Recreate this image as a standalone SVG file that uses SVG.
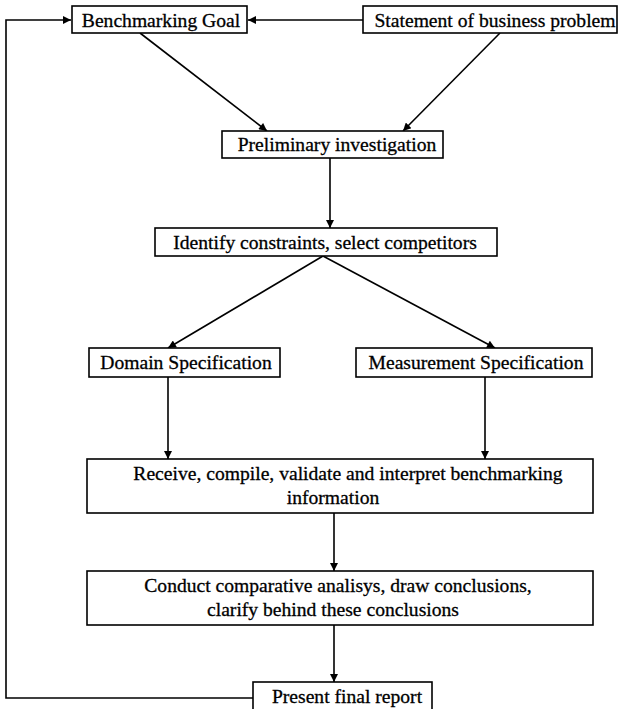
<svg xmlns="http://www.w3.org/2000/svg" width="618" height="709" viewBox="0 0 618 709">
  <style>
    .box { fill: #ffffff; stroke: #000000; stroke-width: 1.6; }
    .lbl { font-family: "Liberation Serif", "Times New Roman", serif; font-size: 19.6px; fill: #000000; stroke: #000000; stroke-width: 0.3; text-anchor: middle; }
    .edge { fill: none; stroke: #000000; stroke-width: 1.6; }
  </style>
  <defs>
    <marker id="arrow" viewBox="0 0 10 10" refX="10" refY="5" markerWidth="9" markerHeight="8" markerUnits="userSpaceOnUse" orient="auto">
      <path d="M0,0 L10,5 L0,10 Z" fill="#000000"/>
    </marker>
  </defs>
  <rect width="618" height="709" fill="#ffffff"/>

  <g id="connectors">
    <line class="edge" x1="363" y1="20" x2="248" y2="20" marker-end="url(#arrow)"/>
    <polyline class="edge" points="253,698 6,698 6,20 71,20" marker-end="url(#arrow)"/>
    <line class="edge" x1="140" y1="33" x2="267" y2="131" marker-end="url(#arrow)"/>
    <line class="edge" x1="500" y1="33" x2="403" y2="131" marker-end="url(#arrow)"/>
    <line class="edge" x1="330" y1="158" x2="330" y2="228" marker-end="url(#arrow)"/>
    <line class="edge" x1="323" y1="256" x2="168" y2="348" marker-end="url(#arrow)"/>
    <line class="edge" x1="323" y1="256" x2="495" y2="348" marker-end="url(#arrow)"/>
    <line class="edge" x1="168" y1="377" x2="168" y2="459" marker-end="url(#arrow)"/>
    <line class="edge" x1="485" y1="377" x2="485" y2="459" marker-end="url(#arrow)"/>
    <line class="edge" x1="334" y1="513" x2="334" y2="571" marker-end="url(#arrow)"/>
    <line class="edge" x1="334" y1="625" x2="334" y2="682" marker-end="url(#arrow)"/>
  </g>

  <g id="benchmarking-goal">
    <rect class="box" x="72" y="6" width="175" height="27"/>
    <text class="lbl" x="161" y="27">Benchmarking Goal</text>
  </g>
  <g id="business-problem">
    <rect class="box" x="363" y="6" width="254" height="27"/>
    <text class="lbl" x="495" y="27">Statement of business problem</text>
  </g>
  <g id="preliminary-investigation">
    <rect class="box" x="222" y="131" width="221" height="27"/>
    <text class="lbl" x="337" y="151">Preliminary investigation</text>
  </g>
  <g id="identify-constraints">
    <rect class="box" x="155" y="228" width="342" height="28"/>
    <text class="lbl" x="325" y="249">Identify constraints, select competitors</text>
  </g>
  <g id="domain-spec">
    <rect class="box" x="89" y="348" width="191" height="29"/>
    <text class="lbl" x="186" y="369">Domain Specification</text>
  </g>
  <g id="measurement-spec">
    <rect class="box" x="356" y="348" width="236" height="29"/>
    <text class="lbl" x="476" y="369">Measurement Specification</text>
  </g>
  <g id="receive-information">
    <rect class="box" x="87" y="459" width="506" height="54"/>
    <text class="lbl" x="348" y="480">Receive, compile, validate and interpret benchmarking</text>
    <text class="lbl" x="333" y="504">information</text>
  </g>
  <g id="comparative-analysis">
    <rect class="box" x="87" y="571" width="506" height="54"/>
    <text class="lbl" x="338" y="592">Conduct comparative analisys, draw conclusions,</text>
    <text class="lbl" x="333" y="616">clarify behind these conclusions</text>
  </g>
  <g id="final-report">
    <rect class="box" x="253" y="682" width="179" height="32"/>
    <text class="lbl" x="347" y="703">Present final report</text>
  </g>
</svg>
